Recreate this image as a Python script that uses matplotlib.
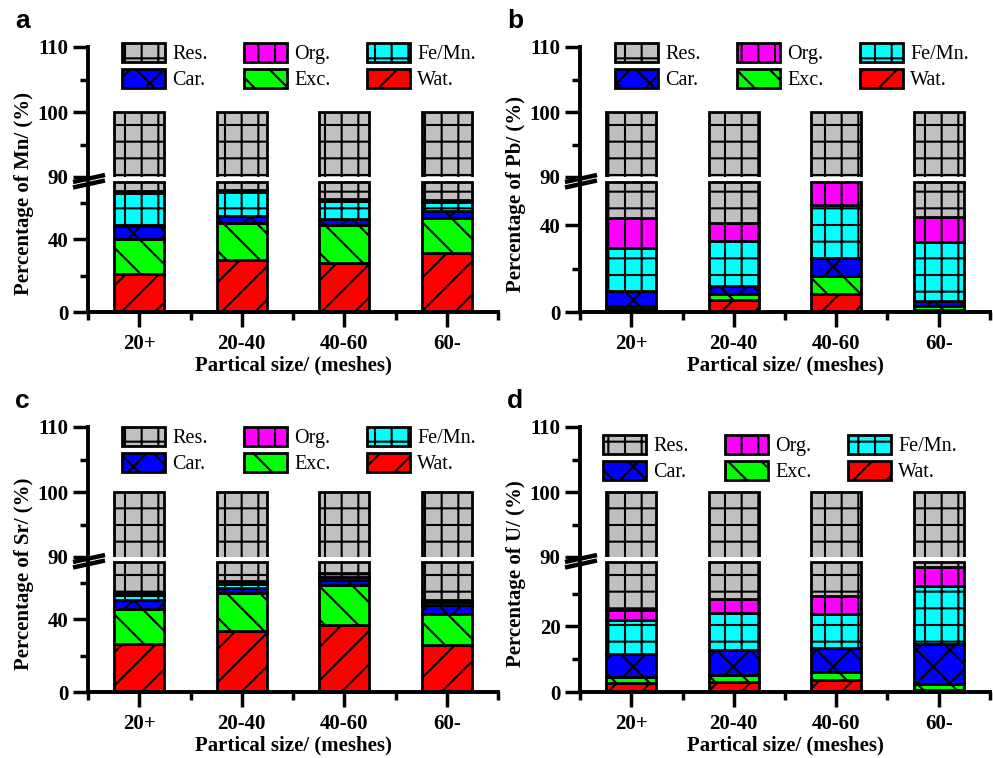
import numpy as np
import matplotlib
matplotlib.use('Agg')
import matplotlib.pyplot as plt
from matplotlib.patches import Patch
from matplotlib.lines import Line2D
from matplotlib.ticker import FixedLocator

plt.rcParams['font.family'] = ['Liberation Serif', 'DejaVu Serif']
plt.rcParams['hatch.linewidth'] = 1.5
plt.rcParams['hatch.color'] = 'black'

# data (percent of each fraction)
sizes = ['20+', '20-40', '40-60', '60-']
fractions = ['Wat.', 'Exc.', 'Car.', 'Fe/Mn.', 'Org.', 'Res.']
colors = ['#ff0000', '#00ff00', '#0000ff', '#00ffff', '#ff00ff', '#c0c0c0']
hatches = ['/', '\\', 'x', '+', '|', '+']

mn_wat = [21.1, 28.4, 27.2, 32.7]
mn_exc = [19.3, 20.6, 20.9, 19.2]
mn_car = [6.9, 3.7, 2.9, 3.5]
mn_femn = [18.2, 13.4, 10.1, 5.2]
mn_org = [0.8, 1.2, 1.0, 1.0]

pb_wat = [1.3, 5.4, 8.2, 0.8]
pb_exc = [1.3, 3.1, 8.3, 1.8]
pb_car = [7.1, 3.3, 8.6, 2.3]
pb_femn = [20.0, 21.0, 24.1, 27.4]
pb_org = [13.8, 8.3, 12.0, 11.5]

sr_wat = [26.6, 33.6, 36.7, 26.1]
sr_exc = [19.3, 21.1, 22.0, 17.0]
sr_car = [4.6, 2.7, 2.8, 4.6]
sr_femn = [3.1, 1.9, 1.8, 1.8]
sr_org = [1.0, 1.5, 2.0, 1.0]

u_wat = [2.8, 3.0, 3.6, 0.6]
u_exc = [1.8, 2.1, 2.5, 1.9]
u_car = [6.9, 7.6, 7.3, 12.2]
u_femn = [10.5, 11.4, 10.5, 17.6]
u_org = [3.1, 4.1, 5.3, 5.8]

elements = ['Mn', 'Pb', 'Sr', 'U']
tags = ['a', 'b', 'c', 'd']
all_data = [
    [mn_wat, mn_exc, mn_car, mn_femn, mn_org],
    [pb_wat, pb_exc, pb_car, pb_femn, pb_org],
    [sr_wat, sr_exc, sr_car, sr_femn, sr_org],
    [u_wat, u_exc, u_car, u_femn, u_org],
]
low_top = [71.5, 60.0, 71.5, 39.6]
low_major = [[0, 40], [0, 40], [0, 40], [0, 20]]
low_minor = [[20, 60], [20], [20, 60], [10, 30]]

W, H = 993, 758
fig = plt.figure(figsize=(W / 100, H / 100), dpi=100)

# pixel layout: left, right, upper top, upper bottom, lower top, lower bottom
boxes = [
    (88, 498, 47, 177, 182, 312),
    (580, 990, 47, 177, 182, 312),
    (88, 498, 427, 557, 562, 692),
    (580, 990, 427, 557, 562, 692),
]
leg_anchor = [(34, -4), (35, -4), (34, 0), (23, 8)]


def fax(x0, x1, ytop, ybot):
    return fig.add_axes([x0 / W, 1 - ybot / H, (x1 - x0) / W, (ybot - ytop) / H])


x = np.arange(1, 5)
bw = 0.49

for k in range(4):
    x0, x1, ut, ub, lt, lb = boxes[k]
    vals = [np.array(v, dtype=float) for v in all_data[k]]
    vals.append(100 - np.sum(vals, axis=0))
    cum = np.vstack([np.zeros(4), np.cumsum(vals, axis=0)])

    axu = fax(x0, x1, ut, ub)
    axl = fax(x0, x1, lt, lb)

    for i in range(6):
        # upper part: full stacks, only the top of Res is visible
        axu.bar(x, vals[i], bw, bottom=cum[i], color=colors[i], hatch=hatches[i],
                edgecolor='black', linewidth=2)
        # lower part: stacks cut at the lower axis top
        b = np.minimum(cum[i], low_top[k])
        t = np.minimum(cum[i + 1], low_top[k])
        keep = t > b
        axl.bar(x[keep], (t - b)[keep], bw, bottom=b[keep], color=colors[i],
                hatch=hatches[i], edgecolor='black', linewidth=2, clip_on=False)

    axu.set_ylim(90, 110)
    axl.set_ylim(0, low_top[k])
    for ax in (axu, axl):
        ax.set_xlim(0.5, 4.5)
        ax.spines['top'].set_visible(False)
        ax.spines['right'].set_visible(False)
        ax.spines['left'].set_linewidth(2.8)
        ax.spines['bottom'].set_linewidth(2.8)
        ax.tick_params(axis='y', which='major', direction='out', length=11, width=2.5, pad=3)
        ax.tick_params(axis='y', which='minor', direction='out', length=5.5, width=2.5)
    axu.spines['bottom'].set_visible(False)
    axu.set_xticks([])
    axu.yaxis.set_major_locator(FixedLocator([90, 100, 110]))
    axu.yaxis.set_minor_locator(FixedLocator([95, 105]))
    axl.yaxis.set_major_locator(FixedLocator(low_major[k]))
    axl.yaxis.set_minor_locator(FixedLocator(low_minor[k]))
    axl.set_xticks(x)
    axl.set_xticklabels(sizes)
    axl.xaxis.set_minor_locator(FixedLocator([0.5, 1.5, 2.5, 3.5, 4.5]))
    axl.tick_params(axis='x', which='major', direction='out', length=11, width=2.5, pad=5)
    axl.tick_params(axis='x', which='minor', direction='out', length=5.5, width=2.5)
    for ax in (axu, axl):
        for lab in ax.get_xticklabels() + ax.get_yticklabels():
            lab.set_fontsize(15)
            lab.set_fontweight('bold')

    axl.set_xlabel('Partical size/ (meshes)', fontsize=15, fontweight='bold', labelpad=1)
    fig.text((x0 - 64) / W, 1 - ((ut + lb) / 2 + 14) / H,
             'Percentage of %s/ (%%)' % elements[k], rotation=90,
             ha='center', va='center', fontsize=15, fontweight='bold')
    fig.text((x0 - 73) / W, 1 - (ut - 19) / H, tags[k], ha='left', va='baseline',
             fontsize=19, fontweight='bold', family=['Liberation Sans', 'DejaVu Sans'])

    # break marks on the y axis
    for dy in (-1.5, 4.0):
        yb = (ub + lt) / 2 + dy
        fig.add_artist(Line2D([(x0 - 15) / W, (x0 + 17) / W],
                              [1 - (yb + 4) / H, 1 - (yb - 3) / H],
                              color='black', linewidth=3.2, solid_capstyle='butt'))

    order = [5, 2, 4, 1, 3, 0]
    handles = [Patch(facecolor=colors[i], hatch=hatches[i], edgecolor='black',
                     linewidth=2, label=fractions[i]) for i in order]
    ax_off, ay_off = leg_anchor[k]
    axu.legend(handles=handles, ncol=3, loc='upper left', frameon=False,
               bbox_to_anchor=(ax_off / (x1 - x0), 1 - ay_off / (ub - ut)),
               borderaxespad=0, borderpad=0, fontsize=14.5, handlelength=2.15,
               handleheight=1.05, handletextpad=0.35, columnspacing=1.8,
               labelspacing=0.25)

fig.savefig('out.png', dpi=100)
